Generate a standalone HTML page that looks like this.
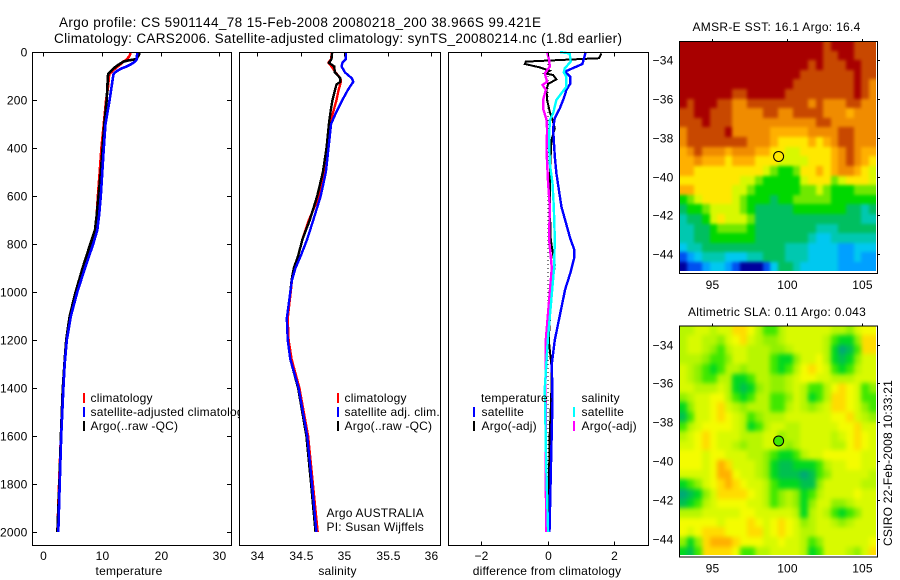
<!DOCTYPE html>
<html>
<head>
<meta charset="utf-8">
<title>Argo profile</title>
<style>
html,body{margin:0;padding:0;background:#fff;}
svg{display:block;}
text{font-family:"Liberation Sans",sans-serif;font-size:12px;fill:#000;letter-spacing:0.2px;}
.title{font-size:13.5px;letter-spacing:0;}
</style>
</head>
<body>
<svg id="fig" xmlns="http://www.w3.org/2000/svg" width="900" height="580" viewBox="0 0 900 580">
<defs>
<filter id="smoothSst" x="-5%" y="-5%" width="110%" height="110%" color-interpolation-filters="sRGB">
<feGaussianBlur stdDeviation="1.5"/>
<feComponentTransfer><feFuncA type="discrete" tableValues="1 1"/></feComponentTransfer>
</filter>
<filter id="smoothSla" x="-5%" y="-5%" width="110%" height="110%" color-interpolation-filters="sRGB">
<feGaussianBlur stdDeviation="2.3"/>
<feComponentTransfer><feFuncA type="discrete" tableValues="1 1"/></feComponentTransfer>
</filter>
<clipPath id="clipSst"><rect x="680" y="42" width="196" height="229"/></clipPath>
<clipPath id="clipSla"><rect x="680" y="326" width="196" height="229"/></clipPath>
</defs>
<rect x="0" y="0" width="900" height="580" fill="#fff"/>
<text class="title" x="59" y="27" textLength="482" lengthAdjust="spacing">Argo profile: CS 5901144_78 15-Feb-2008 20080218_200 38.966S 99.421E</text>
<text class="title" x="54" y="43" textLength="568" lengthAdjust="spacing">Climatology: CARS2006. Satellite-adjusted climatology: synTS_20080214.nc (1.8d earlier)</text>
<g id="layer"></g>
<text x="692.5" y="31" textLength="168" lengthAdjust="spacing">AMSR-E SST: 16.1 Argo: 16.4</text>
<text x="688" y="316" textLength="178" lengthAdjust="spacing">Altimetric SLA: 0.11 Argo: 0.043</text>
<text transform="translate(892,546) rotate(-90)" textLength="166" lengthAdjust="spacing">CSIRO 22-Feb-2008 10:33:21</text>
</svg>
<script>
// ---- profile data ----
const depthTicks = [0,200,400,600,800,1000,1200,1400,1600,1800,2000];
const tempTicks = [0,10,20,30];
const salTicks = [34,34.5,35,35.5,36];
const salTickLabels = ['34','34.5','35','35.5','36'];
const diffTicks = [-2,0,2];

const tempDepths = [0,10,20,30,35,40,50,60,70,80,90,100,150,200,300,400,500,600,680,742,800,900,1000,1100,1200,1300,1408,1600,1800,2000];
const tempClim = [14.8,14.8,14.6,14.2,14.0,13.6,13.2,12.7,12.2,11.7,11.3,11.2,11.0,10.7,10.3,9.9,9.6,9.3,9.1,8.8,8.0,6.7,5.5,4.5,3.9,3.6,3.3,3.0,2.7,2.4];
const tempArgo = [16.3,16.3,16.1,15.8,14.5,13.7,13.0,12.4,11.9,11.5,11.1,11.0,10.9,10.8,10.4,10.1,9.8,9.4,9.1,8.8,8.0,6.7,5.5,4.5,3.9,3.6,3.3,3.0,2.75,2.4];
const tempSat = [16.0,16.0,15.9,15.9,15.8,15.6,15.0,14.2,13.2,12.5,12.0,11.9,11.6,11.3,10.6,10.3,10.05,9.8,9.5,9.2,8.5,7.1,5.8,4.7,4.0,3.65,3.4,3.05,2.8,2.55];

const salDepths = [0,30,45,60,85,110,125,135,160,200,250,300,400,500,600,700,780,850,900,950,1000,1110,1200,1280,1400,1600,1800,2000];
const salClim = [34.862,34.847,34.82,34.854,34.9,34.958,34.962,34.954,34.935,34.912,34.874,34.835,34.797,34.766,34.713,34.594,34.52,34.47,34.43,34.4,34.385,34.35,34.36,34.395,34.485,34.585,34.64,34.695];
const salArgo = [34.862,34.854,34.824,34.885,34.893,34.958,34.954,34.912,34.893,34.866,34.843,34.824,34.797,34.755,34.69,34.605,34.52,34.47,34.42,34.395,34.38,34.34,34.35,34.38,34.47,34.565,34.62,34.67];
const salSat = [35.015,35.02,34.98,34.97,35.01,35.09,35.105,35.085,35.04,34.98,34.91,34.85,34.82,34.79,34.73,34.645,34.575,34.5,34.44,34.4,34.38,34.34,34.35,34.38,34.475,34.575,34.63,34.68];

const diffArgoTDepths = [6,26,40,50,64,78,89,96,114,133,158,200,249,283,318,367,506,644,783,887,1033,1200,1325,1450,1617,2000];
const diffArgoT = [1.61,1.54,-0.66,-0.69,-0.24,0.06,-0.09,0.16,0.26,0.01,-0.04,-0.02,0.06,0.14,0.21,0.11,0.06,0.06,0.09,0.21,0.09,0.03,0.12,0.1,0.05,0.02];
const diffSatTDepths = [0,26,50,82,103,131,158,193,235,276,318,367,436,506,644,779,825,860,920,990,1200,1300,1450,1700,2000];
const diffSatT = [1.14,1.09,1.04,0.51,0.68,0.68,0.56,0.48,0.36,0.21,0.16,0.18,0.21,0.26,0.41,0.68,0.8,0.79,0.68,0.52,0.21,0.12,0.14,0.1,0.05];
const diffSatSDepths = [0,6,40,68,85,103,144,200,256,283,367,464,547,644,779,900,1200,1400,1700,2000];
const diffSatS = [0.36,0.66,0.69,0.51,0.48,0.56,0.56,0.26,0.16,0.06,0.04,0.06,0.14,0.18,0.21,0.19,0,-0.09,-0.05,0.01];
const diffArgoSDepths = [0,33,61,89,124,137,158,200,235,283,325,408,547,644,779,900,1200,1400,1700,2000];
const diffArgoS = [-0.02,0.04,0.06,-0.09,-0.02,-0.16,-0.06,-0.14,-0.14,-0.04,-0.02,-0.04,0.01,0.06,0.04,0.12,-0.06,-0.07,-0.06,-0.05];

// ---- map data (colour level per half-degree cell, north to south) ----
const lonTicks = [95,100,105];
const latTicks = [-34,-36,-38,-40,-42,-44];
const argoLon = 99.421;
const argoLat = -38.966;
const argoSstLevel = 9;
const argoSlaLevel = 3;
const sstLevels = [
[13,13,13,13,13,13,13,13,13,13,13,13,13,13,13,13,13,13,13,12,13,13,13,12,12,12],
[13,13,13,13,13,13,13,13,13,13,13,13,13,13,13,13,13,13,13,12,12,13,13,12,12,12],
[13,13,13,13,13,13,13,13,13,13,13,13,13,13,13,13,13,12,13,12,12,12,13,13,12,12],
[13,13,13,13,13,13,13,13,13,13,13,13,13,13,13,13,12,12,12,12,12,12,12,13,12,12],
[13,13,13,13,13,13,13,13,13,13,13,13,13,13,13,12,12,12,12,12,12,12,12,13,12,11],
[13,13,13,13,13,13,13,12,12,13,13,13,13,13,12,12,12,12,12,12,12,12,12,13,12,11],
[13,12,13,13,13,12,12,11,11,12,12,12,12,12,12,12,12,11,12,11,11,11,12,12,11,11],
[12,12,13,13,12,12,12,11,11,11,11,12,12,11,11,12,12,12,12,11,11,11,10,11,11,11],
[12,12,12,13,12,12,12,11,11,11,11,11,11,11,11,11,11,11,12,12,11,11,11,11,11,11],
[11,12,12,12,12,12,13,11,11,11,11,11,10,10,10,10,10,11,11,11,11,12,12,11,11,11],
[11,12,12,12,12,12,12,12,12,11,11,11,10,9,9,9,9,10,9,10,11,12,12,11,11,11],
[10,11,12,11,11,11,10,11,11,11,10,10,9,9,8,8,9,9,9,9,10,11,12,11,10,10],
[10,10,11,10,10,10,9,10,10,10,9,9,9,8,8,8,8,9,9,9,10,11,12,11,10,9],
[10,10,9,9,9,9,9,9,9,9,9,8,7,6,6,7,9,9,10,9,10,11,11,10,9,8],
[9,9,9,9,9,9,9,9,8,8,7,6,6,6,6,6,8,9,9,9,7,8,9,9,9,8],
[10,10,9,9,9,9,9,8,8,7,6,6,6,6,6,6,7,7,8,7,6,6,6,7,7,7],
[6,7,8,9,9,9,9,8,7,6,6,6,5,6,6,7,7,7,7,7,6,6,6,6,6,6],
[5,6,6,7,8,8,8,8,7,6,5,5,5,5,5,6,6,6,6,6,6,6,5,5,4,5],
[4,5,5,6,8,9,8,8,8,7,5,5,5,5,5,5,5,5,5,5,5,5,5,5,4,4],
[4,4,5,5,6,7,7,7,7,6,5,5,5,5,5,5,5,5,4,4,4,5,5,5,5,5],
[4,4,5,5,6,6,6,6,6,6,5,5,5,5,5,5,5,4,3,3,4,4,4,4,4,4],
[3,4,4,5,5,5,5,5,5,5,5,5,5,5,4,4,4,3,3,3,3,2,2,3,3,3],
[1,2,3,4,4,4,3,3,3,4,4,5,5,5,4,4,4,3,3,3,3,2,2,3,2,2],
[0,1,1,2,3,3,2,1,0,0,0,1,3,5,5,4,3,3,3,3,3,2,2,2,2,2]
];
const slaLevels = [
[5,5,6,6,5,6,6,8,8,7,5,3,3,5,6,6,6,6,6,6,5,5,4,6,7,7],
[5,6,6,5,5,4,6,7,8,6,5,4,4,5,6,6,6,6,6,5,3,2,2,4,8,8],
[5,6,6,5,4,3,5,6,6,5,5,5,4,4,5,6,6,6,6,5,2,0,1,3,8,8],
[5,5,5,4,3,3,4,6,6,5,5,5,3,2,2,4,6,6,7,5,2,1,2,4,6,6],
[6,5,4,3,2,3,5,5,4,5,5,5,3,2,3,5,7,8,7,6,3,2,3,5,6,6],
[6,5,4,3,3,5,5,2,2,3,5,5,4,4,5,6,7,7,6,6,5,5,5,6,6,6],
[6,6,5,5,5,6,5,2,1,2,4,5,4,4,5,6,5,3,3,5,7,8,7,6,3,4],
[4,5,6,6,7,7,5,3,2,3,5,5,3,3,4,6,5,2,3,5,8,8,7,6,3,3],
[2,4,6,6,7,8,6,5,4,5,5,5,3,3,5,6,5,4,5,6,8,8,7,6,4,3],
[1,3,6,6,7,8,7,6,5,3,4,5,5,5,6,6,6,6,6,6,7,7,8,6,5,4],
[3,5,6,7,7,7,7,6,5,2,3,5,6,6,5,5,6,6,6,6,6,7,7,8,6,6],
[5,6,7,8,7,6,6,6,5,5,5,6,6,4,5,5,6,6,6,6,5,6,7,8,7,6],
[6,6,7,8,7,6,6,5,4,5,5,6,6,5,4,5,6,6,6,6,5,5,7,8,7,6],
[7,7,7,6,7,7,6,6,6,5,5,4,3,2,2,3,5,6,6,7,7,7,7,7,6,6],
[7,7,7,6,7,9,8,6,6,6,5,4,2,1,1,2,2,2,3,5,6,6,7,7,6,6],
[6,6,6,6,7,9,9,7,6,6,5,4,2,1,1,1,0,1,3,4,6,6,6,6,6,5],
[2,3,4,6,7,8,9,8,7,6,6,5,3,2,2,2,1,1,4,6,6,6,6,6,5,5],
[0,1,2,4,6,8,8,8,8,7,6,5,3,4,5,4,2,3,5,6,6,6,6,7,6,6],
[1,2,3,5,6,7,7,7,7,6,6,5,3,4,5,4,2,4,6,6,4,4,5,6,6,6],
[5,5,5,6,6,6,6,6,7,7,6,6,6,6,6,5,2,5,6,5,3,2,3,4,6,6],
[7,7,7,7,7,6,7,7,7,8,7,6,7,8,7,6,4,5,6,6,5,4,5,6,6,6],
[7,6,7,8,8,8,7,7,7,8,8,6,7,8,7,6,5,5,6,6,6,6,6,6,6,6],
[4,2,4,8,9,9,9,8,7,7,7,6,6,7,6,6,5,3,4,6,6,6,6,6,6,7],
[2,1,3,8,8,8,8,7,3,3,5,5,6,6,6,6,5,2,3,6,6,6,5,4,6,8]
];

// ---- styling ----
const sstPalette = ['#00009c','#0050f0','#00a0ff','#00c8f0','#00c8b0','#00bf60','#00d800','#70e800','#d8f800','#ffe800','#ffb000','#f08c00','#c84800','#a80000'];
const slaPalette = ['#00a878','#00c050','#00d820','#40e800','#90f000','#b8f600','#d8fa00','#f4fc00','#ffdc00','#ffb000'];

const NS = 'http://www.w3.org/2000/svg';
const layer = document.getElementById('layer');

function makeEl(tag, parent) {
  const el = document.createElementNS(NS, tag);
  parent.appendChild(el);
  return el;
}
function lineEl(parent, x1, y1, x2, y2, stroke, width) {
  const el = makeEl('line', parent);
  el.setAttribute('x1', x1); el.setAttribute('y1', y1);
  el.setAttribute('x2', x2); el.setAttribute('y2', y2);
  el.setAttribute('stroke', stroke); el.setAttribute('stroke-width', width);
  el.setAttribute('shape-rendering', 'crispEdges');
  return el;
}
function textEl(parent, x, y, str, anchor) {
  const el = makeEl('text', parent);
  el.setAttribute('x', x); el.setAttribute('y', y);
  if (anchor) el.setAttribute('text-anchor', anchor);
  el.textContent = str;
  return el;
}
function linear(d0, d1, r0, r1) {
  return v => r0 + (v - d0) * (r1 - r0) / (d1 - d0);
}
function drawSeries(parent, name, xs, ys, depths, vals, color, width) {
  const pts = vals.map((v, i) => xs(v).toFixed(1) + ',' + ys(depths[i]).toFixed(1)).join(' ');
  const el = makeEl('polyline', parent);
  el.setAttribute('points', pts);
  el.setAttribute('fill', 'none');
  el.setAttribute('stroke', color);
  el.setAttribute('stroke-width', width);
  el.setAttribute('shape-rendering', 'crispEdges');
  
  
}
function drawBox(parent, name, x0, y0, x1, y1) {
  const el = makeEl('rect', parent);
  el.setAttribute('x', x0); el.setAttribute('y', y0);
  el.setAttribute('width', x1 - x0); el.setAttribute('height', y1 - y0);
  el.setAttribute('fill', 'none'); el.setAttribute('stroke', '#000');
  el.setAttribute('stroke-width', '1');
  el.setAttribute('shape-rendering', 'crispEdges');
  
  
}
function panelBg(parent, x0, y0, x1, y1) {
  const el = makeEl('rect', parent);
  el.setAttribute('x', x0); el.setAttribute('y', y0);
  el.setAttribute('width', x1 - x0); el.setAttribute('height', y1 - y0);
  el.setAttribute('fill', '#fff');
  
  
}
function legendRow(parent, mx, tx, baseY, color, str) {
  if (color) {
    const m = lineEl(parent, mx, baseY - 9, mx, baseY + 1, color, 2);
    
    
  }
  const t = textEl(parent, tx, baseY, str);
  
  
}

const plotTop = 52.5, plotBottom = 545.5;
const yDepth = linear(0, 2000, 52, 532);

// temperature panel
const tempPanel = makeEl('g', layer);


const xTemp = linear(0, 30, 43.3, 219.4);
panelBg(tempPanel, 32.5, plotTop, 231.5, plotBottom);
drawSeries(tempPanel, 'temperature-climatology-line', xTemp, yDepth, tempDepths, tempClim, '#ff0000', 2.6);
drawSeries(tempPanel, 'temperature-argo-line', xTemp, yDepth, tempDepths, tempArgo, '#000000', 2.6);
drawSeries(tempPanel, 'temperature-satellite-line', xTemp, yDepth, tempDepths, tempSat, '#0000ff', 2.6);
legendRow(tempPanel, 84, 90.5, 402, '#ff0000', 'climatology');
legendRow(tempPanel, 84, 90.5, 416, '#0000ff', 'satellite-adjusted climatology');
legendRow(tempPanel, 84, 90.5, 430, '#000000', 'Argo(..raw -QC)');
depthTicks.forEach(d => {
  const y = Math.round(yDepth(d)) + 0.5;
  const a = lineEl(tempPanel, 32.5, y, 37, y, '#000', 1);
  
  
  const b = lineEl(tempPanel, 227, y, 231.5, y, '#000', 1);
  
  
  const t = textEl(tempPanel, 27.5, y + 4, String(d), 'end');
  
  
});
tempTicks.forEach(v => {
  const x = Math.round(xTemp(v)) + 0.5;
  const a = lineEl(tempPanel, x, plotTop, x, plotTop + 4, '#000', 1);
  
  
  const t = textEl(tempPanel, x, 560, String(v), 'middle');
  
  
});
const tempLabel = textEl(tempPanel, 129, 575, 'temperature', 'middle');


drawBox(tempPanel, 'temperature-axes-box', 32.5, plotTop, 231.5, plotBottom);

// salinity panel
const salPanel = makeEl('g', layer);


const xSal = linear(34, 36, 257.3, 431);
panelBg(salPanel, 239.5, plotTop, 440.5, plotBottom);
drawSeries(salPanel, 'salinity-climatology-line', xSal, yDepth, salDepths, salClim, '#ff0000', 2.4);
drawSeries(salPanel, 'salinity-argo-line', xSal, yDepth, salDepths, salArgo, '#000000', 2.4);
drawSeries(salPanel, 'salinity-satellite-line', xSal, yDepth, salDepths, salSat, '#0000ff', 2.4);
legendRow(salPanel, 338, 344.5, 402, '#ff0000', 'climatology');
legendRow(salPanel, 338, 344.5, 416, '#0000ff', 'satellite adj. clim.');
legendRow(salPanel, 338, 344.5, 430, '#000000', 'Argo(..raw -QC)');
const agency = textEl(salPanel, 326.5, 517, 'Argo AUSTRALIA');


const pi = textEl(salPanel, 326.5, 531, 'PI: Susan Wijffels');


salTicks.forEach((v, i) => {
  const x = Math.round(xSal(v)) + 0.5;
  const a = lineEl(salPanel, x, plotTop, x, plotTop + 4, '#000', 1);
  
  
  const t = textEl(salPanel, x, 560, salTickLabels[i], 'middle');
  
  
});
const salLabel = textEl(salPanel, 337.5, 575, 'salinity', 'middle');


drawBox(salPanel, 'salinity-axes-box', 239.5, plotTop, 440.5, plotBottom);

// difference panel
const diffPanel = makeEl('g', layer);


const xDiff = linear(-2, 2, 481.3, 614.3);
panelBg(diffPanel, 448.5, plotTop, 648.5, plotBottom);
const zero = lineEl(diffPanel, xDiff(0), yDepth(0), xDiff(0), yDepth(2000), '#000', 1);
zero.setAttribute('stroke-dasharray', '1 3');


drawSeries(diffPanel, 'difference-argo-temperature-line', xDiff, yDepth, diffArgoTDepths, diffArgoT, '#000000', 2);
drawSeries(diffPanel, 'difference-satellite-temperature-line', xDiff, yDepth, diffSatTDepths, diffSatT, '#0000ff', 2.4);
drawSeries(diffPanel, 'difference-argo-salinity-line', xDiff, yDepth, diffArgoSDepths, diffArgoS, '#ff00ff', 2.4);
drawSeries(diffPanel, 'difference-satellite-salinity-line', xDiff, yDepth, diffSatSDepths, diffSatS, '#00ffff', 2.4);
legendRow(diffPanel, 0, 481, 402, null, 'temperature');
legendRow(diffPanel, 474, 481.5, 416, '#0000ff', 'satellite');
legendRow(diffPanel, 474, 481.5, 430, '#000000', 'Argo(-adj)');
legendRow(diffPanel, 0, 581.5, 402, null, 'salinity');
legendRow(diffPanel, 574, 581.5, 416, '#00ffff', 'satellite');
legendRow(diffPanel, 574, 581.5, 430, '#ff00ff', 'Argo(-adj)');
diffTicks.forEach(v => {
  const x = Math.round(xDiff(v)) + 0.5;
  const a = lineEl(diffPanel, x, plotTop, x, plotTop + 4, '#000', 1);
  
  
  const b = lineEl(diffPanel, x, plotBottom - 4, x, plotBottom, '#000', 1);
  
  
  const t = textEl(diffPanel, x, 560, String(v).replace('-', '\u2212'), 'middle');
  
  
});
const diffLabel = textEl(diffPanel, 547, 575, 'difference from climatology', 'middle');


drawBox(diffPanel, 'difference-axes-box', 448.5, plotTop, 648.5, plotBottom);

// maps
function drawMap(mapName, levels, palette, markerLevel, top, bottom, filterId, clipId) {
  const g = makeEl('g', layer);
  
  
  const xLon = linear(95, 105, 712.3, 862.3);
  const yLat = linear(-34, -44, top + 19, top + 213.2);
  const lonStart = 92.8, lonStep = 0.505, latStart = -33.02, latStep = 0.495;
  const clipGroup = makeEl('g', g);
  clipGroup.setAttribute('clip-path', 'url(#' + clipId + ')');
  
  
  const cells = makeEl('g', clipGroup);
  cells.setAttribute('filter', 'url(#' + filterId + ')');
  
  
  levels.forEach((row, r) => {
    row.forEach((level, c) => {
      const x0 = Math.round(xLon(lonStart + c * lonStep));
      const x1 = Math.round(xLon(lonStart + (c + 1) * lonStep));
      const y0 = Math.round(yLat(latStart - r * latStep));
      const y1 = Math.round(yLat(latStart - (r + 1) * latStep));
      const cell = makeEl('rect', cells);
      cell.setAttribute('x', x0);
      cell.setAttribute('y', y0);
      cell.setAttribute('width', x1 - x0);
      cell.setAttribute('height', y1 - y0);
      cell.setAttribute('fill', palette[level]);
      cell.setAttribute('shape-rendering', 'crispEdges');
      
      
    });
  });
  drawBox(g, 'map-axes-box', 679.5, top + 0.5, 877.5, bottom + 0.5);
  lonTicks.forEach(v => {
    const x = Math.round(xLon(v)) + 0.5;
    const a = lineEl(g, x, top - 2, x, top, '#000', 1);
    
    
    const t = textEl(g, x, bottom + 16, String(v), 'middle');
    
    
  });
  latTicks.forEach(v => {
    const y = Math.round(yLat(v)) + 0.5;
    const a = lineEl(g, 877.5, y, 880, y, '#000', 1);
    
    
    const t = textEl(g, 673.5, y + 4, String(v).replace('-', '\u2212'), 'end');
    
    
  });
  const marker = makeEl('circle', g);
  marker.setAttribute('cx', xLon(argoLon));
  marker.setAttribute('cy', yLat(argoLat));
  marker.setAttribute('r', 5);
  marker.setAttribute('fill', palette[markerLevel]);
  marker.setAttribute('stroke', '#000');
  marker.setAttribute('stroke-width', 1);
  
  
}
drawMap('sst-map', sstLevels, sstPalette, argoSstLevel, 41, 273, 'smoothSst', 'clipSst');
drawMap('sla-map', slaLevels, slaPalette, argoSlaLevel, 325.5, 556.5, 'smoothSla', 'clipSla');
</script>
</body>
</html>
